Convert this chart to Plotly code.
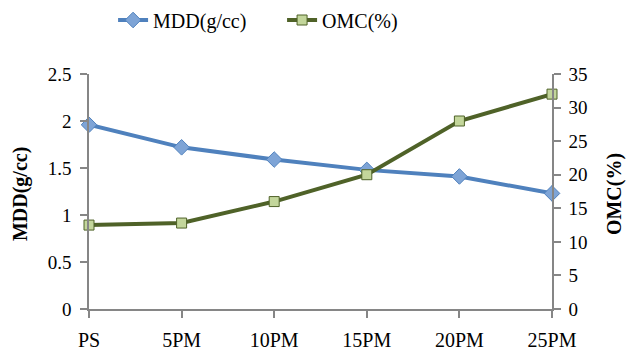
import plotly.graph_objects as go

# Mix designations and measured compaction properties
mixes = ["PS", "5PM", "10PM", "15PM", "20PM", "25PM"]
mdd = [1.96, 1.72, 1.59, 1.48, 1.41, 1.23]   # maximum dry density, g/cc
omc = [12.5, 12.8, 16.0, 20.0, 28.0, 32.0]   # optimum moisture content, %

FONT = "Liberation Serif, Times New Roman, serif"
AXIS_GREY = "#868686"
PLOT_W = 463  # plot-area width in px
HEIGHT = 353

fig = go.Figure()
fig.add_trace(go.Scatter(
    x=mixes, y=mdd, name="MDD(g/cc)", mode="lines+markers",
    line=dict(color="#4F81BD", width=4),
    marker=dict(symbol="diamond", size=12, color="#7EA4D6",
                line=dict(color="#4F81BD", width=1)),
    cliponaxis=False,
))
fig.add_trace(go.Scatter(
    x=mixes, y=omc, name="OMC(%)", mode="lines+markers", yaxis="y2",
    line=dict(color="#4F6228", width=4),
    marker=dict(symbol="square", size=10, color="#C3D69B",
                line=dict(color="#4F6228", width=1)),
    cliponaxis=False,
))

axis_common = dict(
    showgrid=False, zeroline=False, automargin=False,
    showline=True, linecolor=AXIS_GREY, linewidth=1.5,
    ticks="outside", ticklen=7, tickcolor=AXIS_GREY, tickwidth=1.5,
)

fig.update_layout(
    width=627, height=HEIGHT,
    margin=dict(l=89, r=75, t=74, b=44, autoexpand=False),
    paper_bgcolor="white", plot_bgcolor="white",
    font=dict(family=FONT, size=19, color="black"),
    showlegend=True,
    legend=dict(orientation="h", x=0.052, xanchor="left",
                yref="container", y=1 - 20 / HEIGHT, yanchor="middle",
                font=dict(size=20), entrywidth=124, entrywidthmode="pixels",
                bgcolor="rgba(0,0,0,0)"),
    xaxis=dict(type="category", range=[0, 5], ticklabelstandoff=5,
               tickfont=dict(size=20), **axis_common),
    yaxis=dict(range=[0, 2.5], dtick=0.5, ticklabelstandoff=5,
               tickfont=dict(size=19), **axis_common),
    yaxis2=dict(range=[0, 35], dtick=5, overlaying="y", side="right",
                ticklabelstandoff=4, tickfont=dict(size=19), **axis_common),
    annotations=[
        dict(text="<b>MDD(g/cc)</b>", xref="paper", yref="paper",
             x=(20 - 89) / PLOT_W, y=0.489, xanchor="center", yanchor="middle",
             textangle=-90, showarrow=False, font=dict(size=20)),
        dict(text="<b>OMC(%)</b>", xref="paper", yref="paper",
             x=(614 - 89) / PLOT_W, y=0.489, xanchor="center", yanchor="middle",
             textangle=-90, showarrow=False, font=dict(size=20)),
    ],
)

fig.write_html("out.html")
